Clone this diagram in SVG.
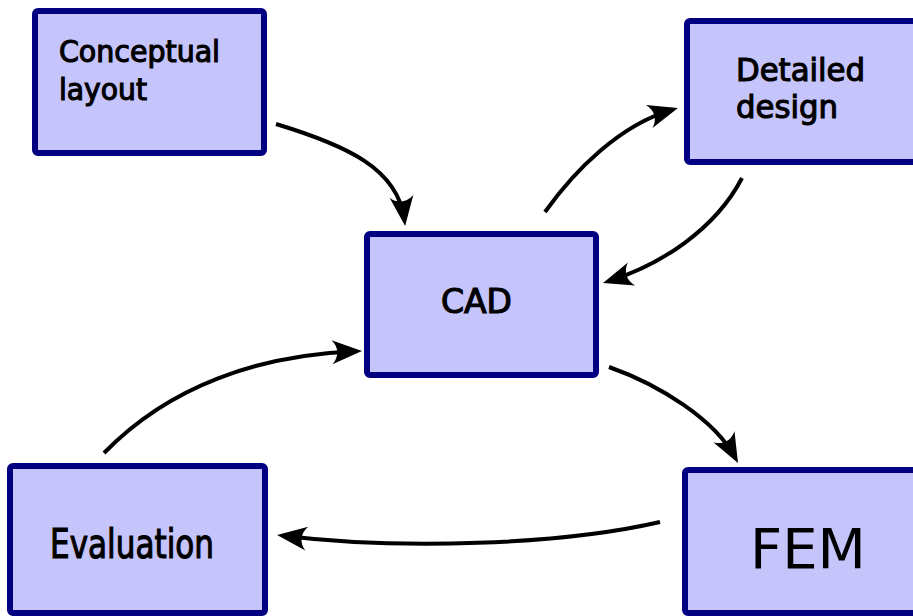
<svg xmlns="http://www.w3.org/2000/svg" width="913" height="616" viewBox="0 0 913 616">
<style>
.box{fill:#c5c5fb;stroke:#000080;stroke-width:6;stroke-linejoin:round}
.lbl{font-family:"DejaVu Sans Condensed","DejaVu Sans",sans-serif;fill:#000;stroke:#000;stroke-width:1.1}
.con{fill:none;stroke:#000;stroke-width:4;marker-end:url(#ah)}
</style>
<defs>
<marker id="ah" markerUnits="userSpaceOnUse" viewBox="-34 -14 36 28" markerWidth="36" markerHeight="28" refX="-6" refY="0" orient="auto">
<path d="M0,0 L-30,-12 C-23,-5 -23,5 -30,12 Z" fill="#000"/>
</marker>
</defs>
<rect width="913" height="616" fill="#fff"/>
<g id="connectors">
<path class="con" d="M276,124 C345,145 398,168 404.4,220"/>
<path class="con" d="M545,212 C575,170 620,125 672.2,109.7"/>
<path class="con" d="M742,178 C715,230 660,265 608.7,281.2"/>
<path class="con" d="M609,367 C660,385 715,420 735.2,457.7"/>
<path class="con" d="M660,522 C560,545 400,550 283,535.7"/>
<path class="con" d="M104,453 C170,385 260,355 356,351.2"/>
</g>
<g id="conceptual">
<rect class="box" x="35" y="11" width="229" height="142" rx="3"/>
<text class="lbl" font-size="30" x="59" y="62" textLength="161" lengthAdjust="spacingAndGlyphs">Conceptual</text>
<text class="lbl" font-size="30" x="59" y="100" textLength="88" lengthAdjust="spacingAndGlyphs">layout</text>
</g>
<g id="detailed">
<rect class="box" x="687" y="21" width="232" height="141" rx="3"/>
<text class="lbl" font-size="32.5" x="736" y="81" textLength="129" lengthAdjust="spacingAndGlyphs">Detailed</text>
<text class="lbl" font-size="32.5" x="736" y="118" textLength="102" lengthAdjust="spacingAndGlyphs">design</text>
</g>
<g id="cad">
<rect class="box" x="367" y="234" width="229" height="141" rx="3"/>
<text class="lbl" font-size="34" x="441" y="313" textLength="71" lengthAdjust="spacingAndGlyphs">CAD</text>
</g>
<g id="evaluation">
<rect class="box" x="10" y="466" width="255" height="147" rx="3"/>
<text class="lbl" font-size="41" x="50" y="558" textLength="164" lengthAdjust="spacingAndGlyphs">Evaluation</text>
</g>
<g id="fem">
<rect class="box" x="685" y="470" width="235" height="143" rx="3"/>
<text font-family="DejaVu Sans, sans-serif" font-size="56" x="750" y="568" fill="#000">FEM</text>
</g>
</svg>
